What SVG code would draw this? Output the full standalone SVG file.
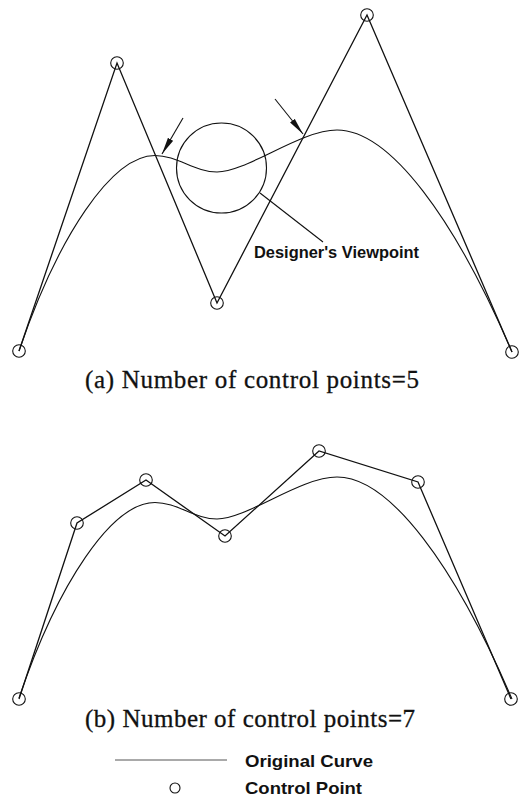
<svg xmlns="http://www.w3.org/2000/svg" width="524" height="800" viewBox="0 0 524 800">
  <style>
    .poly { fill: none; stroke: #111; stroke-width: 1.3; stroke-linejoin: miter; }
    .curve { fill: none; stroke: #111; stroke-width: 1.1; }
    .cp { fill: none; stroke: #111; stroke-width: 1.1; }
    .thin { fill: none; stroke: #111; stroke-width: 1.1; }
    .label { font-family: "Liberation Sans", Arial, sans-serif; font-weight: bold; fill: #111; }
    .caption { font-family: "Liberation Serif", "Times New Roman", serif; fill: #111; stroke: #111; stroke-width: 0.3; }
  </style>
  <defs>
    <marker id="head" markerUnits="userSpaceOnUse" viewBox="0 0 17 7" refX="17" refY="3.5" markerWidth="17" markerHeight="7" orient="auto">
      <path d="M0,0.5 L17,3.5 L0,6.5 Z" fill="#111"/>
    </marker>
    <path id="origCurve" d="M19,351 C58,236 112,155.5 155,155.5 C177,155.5 195,172 217,172 C247,172 300,130 337,130 C390,130 455,219 512,352"/>
  </defs>

  <!-- (a) -->
  <g id="connectors-a">
    <polyline class="poly" points="19,351 117,63 217,303 367,15 512,352"/>
  </g>
  <use href="#origCurve" class="curve" id="curve-a"/>
  <g id="cp-a0"><circle class="cp" cx="19" cy="351" r="6.3"/></g>
  <g id="cp-a1"><circle class="cp" cx="117" cy="63" r="6.3"/></g>
  <g id="cp-a2"><circle class="cp" cx="217" cy="303" r="6.3"/></g>
  <g id="cp-a3"><circle class="cp" cx="367" cy="15" r="6.3"/></g>
  <g id="cp-a4"><circle class="cp" cx="512" cy="352" r="6.3"/></g>

  <g id="viewpoint">
    <circle class="thin" cx="221.5" cy="168" r="45"/>
    <line class="thin" x1="260" y1="193" x2="323" y2="242"/>
    <text class="label" x="254" y="258" font-size="16.5" textLength="165" lengthAdjust="spacingAndGlyphs">Designer's Viewpoint</text>
  </g>
  <g id="arrows">
    <line class="thin" x1="183" y1="118" x2="162" y2="154" marker-end="url(#head)"/>
    <line class="thin" x1="275" y1="99" x2="303" y2="134" marker-end="url(#head)"/>
  </g>
  <text class="caption" x="85" y="388" font-size="25" textLength="334" lengthAdjust="spacing">(a) Number of control points=5</text>

  <!-- (b) -->
  <g id="connectors-b">
    <polyline class="poly" points="19,699 77,523 146,480 225,536 319,451 418,482 511,699"/>
  </g>
  <use href="#origCurve" class="curve" id="curve-b" transform="translate(0,347)"/>
  <g id="cp-b0"><circle class="cp" cx="19" cy="699" r="6.3"/></g>
  <g id="cp-b1"><circle class="cp" cx="77" cy="523" r="6.3"/></g>
  <g id="cp-b2"><circle class="cp" cx="146" cy="480" r="6.3"/></g>
  <g id="cp-b3"><circle class="cp" cx="225" cy="536" r="6.3"/></g>
  <g id="cp-b4"><circle class="cp" cx="319" cy="451" r="6.3"/></g>
  <g id="cp-b5"><circle class="cp" cx="418" cy="482" r="6.3"/></g>
  <g id="cp-b6"><circle class="cp" cx="511" cy="699" r="6.3"/></g>
  <text class="caption" x="85" y="727" font-size="25" textLength="330" lengthAdjust="spacing">(b) Number of control points=7</text>

  <!-- legend -->
  <g id="legend">
    <line x1="115" y1="760" x2="227" y2="760" stroke="#555" stroke-width="1"/>
    <text class="label" x="245" y="767" font-size="17" textLength="128" lengthAdjust="spacingAndGlyphs">Original Curve</text>
    <circle class="cp" cx="175" cy="788" r="5"/>
    <text class="label" x="245" y="794" font-size="17" textLength="117" lengthAdjust="spacingAndGlyphs">Control Point</text>
  </g>
</svg>
